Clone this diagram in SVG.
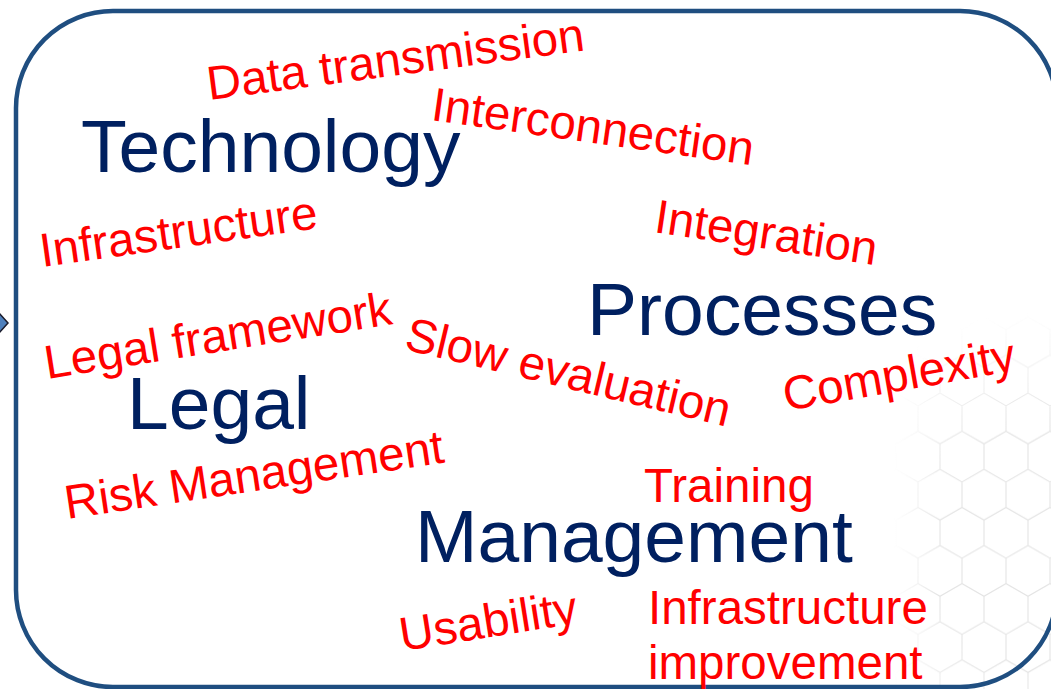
<svg xmlns="http://www.w3.org/2000/svg" width="1051" height="689" viewBox="0 0 1051 689">
<style>
.blue{font-family:"Liberation Sans",Arial,sans-serif;font-size:75px;fill:#002060}
.red{font-family:"Liberation Sans",Arial,sans-serif;font-size:47.5px;fill:#ff0000}
.hex{fill:none;stroke:#e4e4e4;stroke-width:1.1}
</style>
<defs>
<pattern id="honey" patternUnits="userSpaceOnUse" x="918" y="393.1" width="44" height="76.2">
<path class="hex" d="M22,0 L44,12.7 L44,38.1 L22,50.8 L0,38.1 L0,12.7 Z M22,50.8 L22,76.2"/>
</pattern>
<radialGradient id="fade" gradientUnits="userSpaceOnUse" cx="1045" cy="550" r="240">
<stop offset="0" stop-color="#fff"/>
<stop offset="0.5" stop-color="#fff"/>
<stop offset="1" stop-color="#000"/>
</radialGradient>
<linearGradient id="leftfade" gradientUnits="userSpaceOnUse" x1="893" y1="0" x2="940" y2="0">
<stop offset="0" stop-color="#000"/>
<stop offset="1" stop-color="#fff"/>
</linearGradient>
<mask id="hexmask"><rect x="0" y="0" width="1051" height="689" fill="url(#fade)"/></mask>
<mask id="leftmask"><rect x="0" y="0" width="1051" height="689" fill="url(#leftfade)"/></mask>
</defs>
<rect width="1051" height="689" fill="#ffffff"/>
<g id="background-hexagons" mask="url(#leftmask)">
<g mask="url(#hexmask)">
<rect x="880" y="300" width="171" height="389" fill="url(#honey)"/>
</g>
</g>
<polygon id="left-marker" points="-10,323 -1,313 8,323 -1,333" fill="#4f81bd" stroke="#1b1b2b" stroke-width="1.5"/>
<rect id="frame" x="16" y="11" width="1041" height="676" rx="97" ry="97" fill="none" stroke="#1f4e80" stroke-width="4.5"/>
<g id="connectors"/>
<g id="technology"><text class="blue" x="81" y="172">Technology</text></g>
<g id="processes"><text class="blue" x="587" y="335">Processes</text></g>
<g id="legal"><text class="blue" x="127" y="429">Legal</text></g>
<g id="management"><text class="blue" x="415" y="562">Management</text></g>
<g id="data-transmission"><text class="red" x="209" y="100" transform="rotate(-7.5 209 100)">Data transmission</text></g>
<g id="interconnection"><text class="red" x="430" y="120" transform="rotate(8 430 120)">Interconnection</text></g>
<g id="infrastructure-top"><text class="red" x="42" y="267" transform="rotate(-8 42 267)">Infrastructure</text></g>
<g id="integration"><text class="red" x="653" y="232" transform="rotate(8.5 653 232)">Integration</text></g>
<g id="legal-framework"><text class="red" x="47" y="379" transform="rotate(-9 47 379)">Legal framework</text></g>
<g id="slow-evaluation"><text class="red" x="403" y="349" transform="rotate(13.5 403 349)">Slow evaluation</text></g>
<g id="complexity"><text class="red" x="786" y="411" transform="rotate(-10 786 411)">Complexity</text></g>
<g id="risk-management"><text class="red" x="67" y="519" transform="rotate(-8.5 67 519)">Risk Management</text></g>
<g id="training"><text class="red" x="644" y="502">Training</text></g>
<g id="usability"><text class="red" x="402" y="651" transform="rotate(-9 402 651)">Usability</text></g>
<g id="infrastructure-improvement"><text class="red" x="648" y="624">Infrastructure</text><text class="red" x="648" y="679">improvement</text></g>
</svg>
